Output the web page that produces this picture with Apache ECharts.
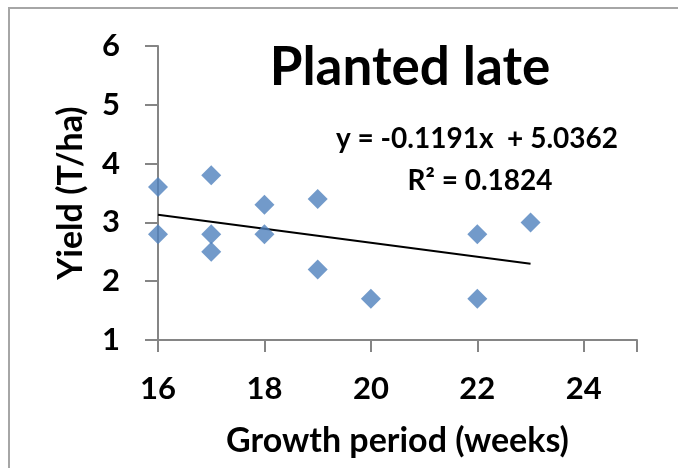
<!DOCTYPE html>
<html>
<head>
<meta charset="utf-8">
<script src="https://cdn.jsdelivr.net/npm/echarts@6/dist/echarts.min.js"></script>
<style>
html,body{margin:0;padding:0;background:#fff;}
#chart{width:678px;height:468px;}
</style>
</head>
<body>
<div id="chart"></div>
<script>
var growthWeeks = [16, 16, 17, 17, 17, 18, 18, 19, 19, 20, 22, 22, 23];
var yieldTha   = [3.6, 2.8, 3.8, 2.8, 2.5, 3.3, 2.8, 3.4, 2.2, 1.7, 2.8, 1.7, 3.0];
var trendX = [16, 23];
var trendY = [3.131, 2.297];
var xTicks = [16, 18, 20, 22, 24];
var yTicks = [1, 2, 3, 4, 5, 6];
var titleText = 'Planted late';
var eqText = 'y = -0.1191x  + 5.0362';
var r2Text = 'R\u00B2 = 0.1824';

var points = growthWeeks.map(function (x, i) { return [x, yieldTha[i]]; });
var trend = trendX.map(function (x, i) { return [x, trendY[i]]; });

var FONT = 'Lato, "Open Sans", sans-serif';
var chart = echarts.init(document.getElementById('chart'), null, {renderer: 'canvas'});
chart.setOption({
  animation: false,
  backgroundColor: '#ffffff',
  title: {
    text: titleText,
    left: 405, top: 36, textAlign: 'center',
    textStyle: {fontFamily: FONT, fontWeight: 'bold', fontSize: 53, color: '#000'}
  },
  grid: {left: 158, top: 46, width: 479, height: 294, containLabel: false},
  xAxis: {
    type: 'value', min: 16, max: 25, interval: 2,
    name: 'Growth period (weeks)', nameLocation: 'middle', nameGap: 84,
    nameTextStyle: {fontFamily: FONT, fontWeight: 'bold', fontSize: 34, color: '#000'},
    axisLine: {show: true, onZero: false, lineStyle: {color: '#858585', width: 2}},
    axisTick: {show: true, length: 12, lineStyle: {color: '#858585', width: 2}},
    splitLine: {show: false},
    axisLabel: {
      margin: 33, fontFamily: FONT, fontWeight: 'bold', fontSize: 31, color: '#000',
      formatter: function (v) { return xTicks.indexOf(v) >= 0 ? String(v) : ''; }
    }
  },
  yAxis: {
    type: 'value', min: 1, max: 6, interval: 1,
    name: 'Yield (T/ha)', nameLocation: 'middle', nameGap: 70,
    nameTextStyle: {fontFamily: FONT, fontWeight: 'bold', fontSize: 34, color: '#000'},
    axisLine: {show: true, onZero: false, lineStyle: {color: '#858585', width: 2}},
    axisTick: {show: true, length: 13, lineStyle: {color: '#858585', width: 2}},
    splitLine: {show: false},
    axisLabel: {
      margin: 38, fontFamily: FONT, fontWeight: 'bold', fontSize: 31, color: '#000',
      formatter: function (v) { return yTicks.indexOf(v) >= 0 ? String(v) : ''; }
    }
  },
  graphic: [
    {type: 'rect', shape: {x: 9, y: 8, width: 700, height: 500},
     style: {fill: 'none', stroke: '#a6a6a6', lineWidth: 2}, z: 100, silent: true},
    {type: 'text', x: 477, y: 139,
     style: {text: eqText, fontFamily: FONT, fontWeight: 'bold', fontSize: 28, fill: '#000',
             textAlign: 'center', textVerticalAlign: 'middle'}, z: 100},
    {type: 'text', x: 480, y: 181,
     style: {text: r2Text, fontFamily: FONT, fontWeight: 'bold', fontSize: 28, fill: '#000',
             textAlign: 'center', textVerticalAlign: 'middle'}, z: 100}
  ],
  series: [
    {
      type: 'line', data: trend, showSymbol: false, symbol: 'none',
      lineStyle: {color: '#000', width: 2}, z: 3, silent: true
    },
    {
      type: 'scatter', data: points, symbol: 'diamond', symbolSize: 20,
      itemStyle: {color: '#4F81BD'}, z: 4
    }
  ]
});
</script>
</body>
</html>
